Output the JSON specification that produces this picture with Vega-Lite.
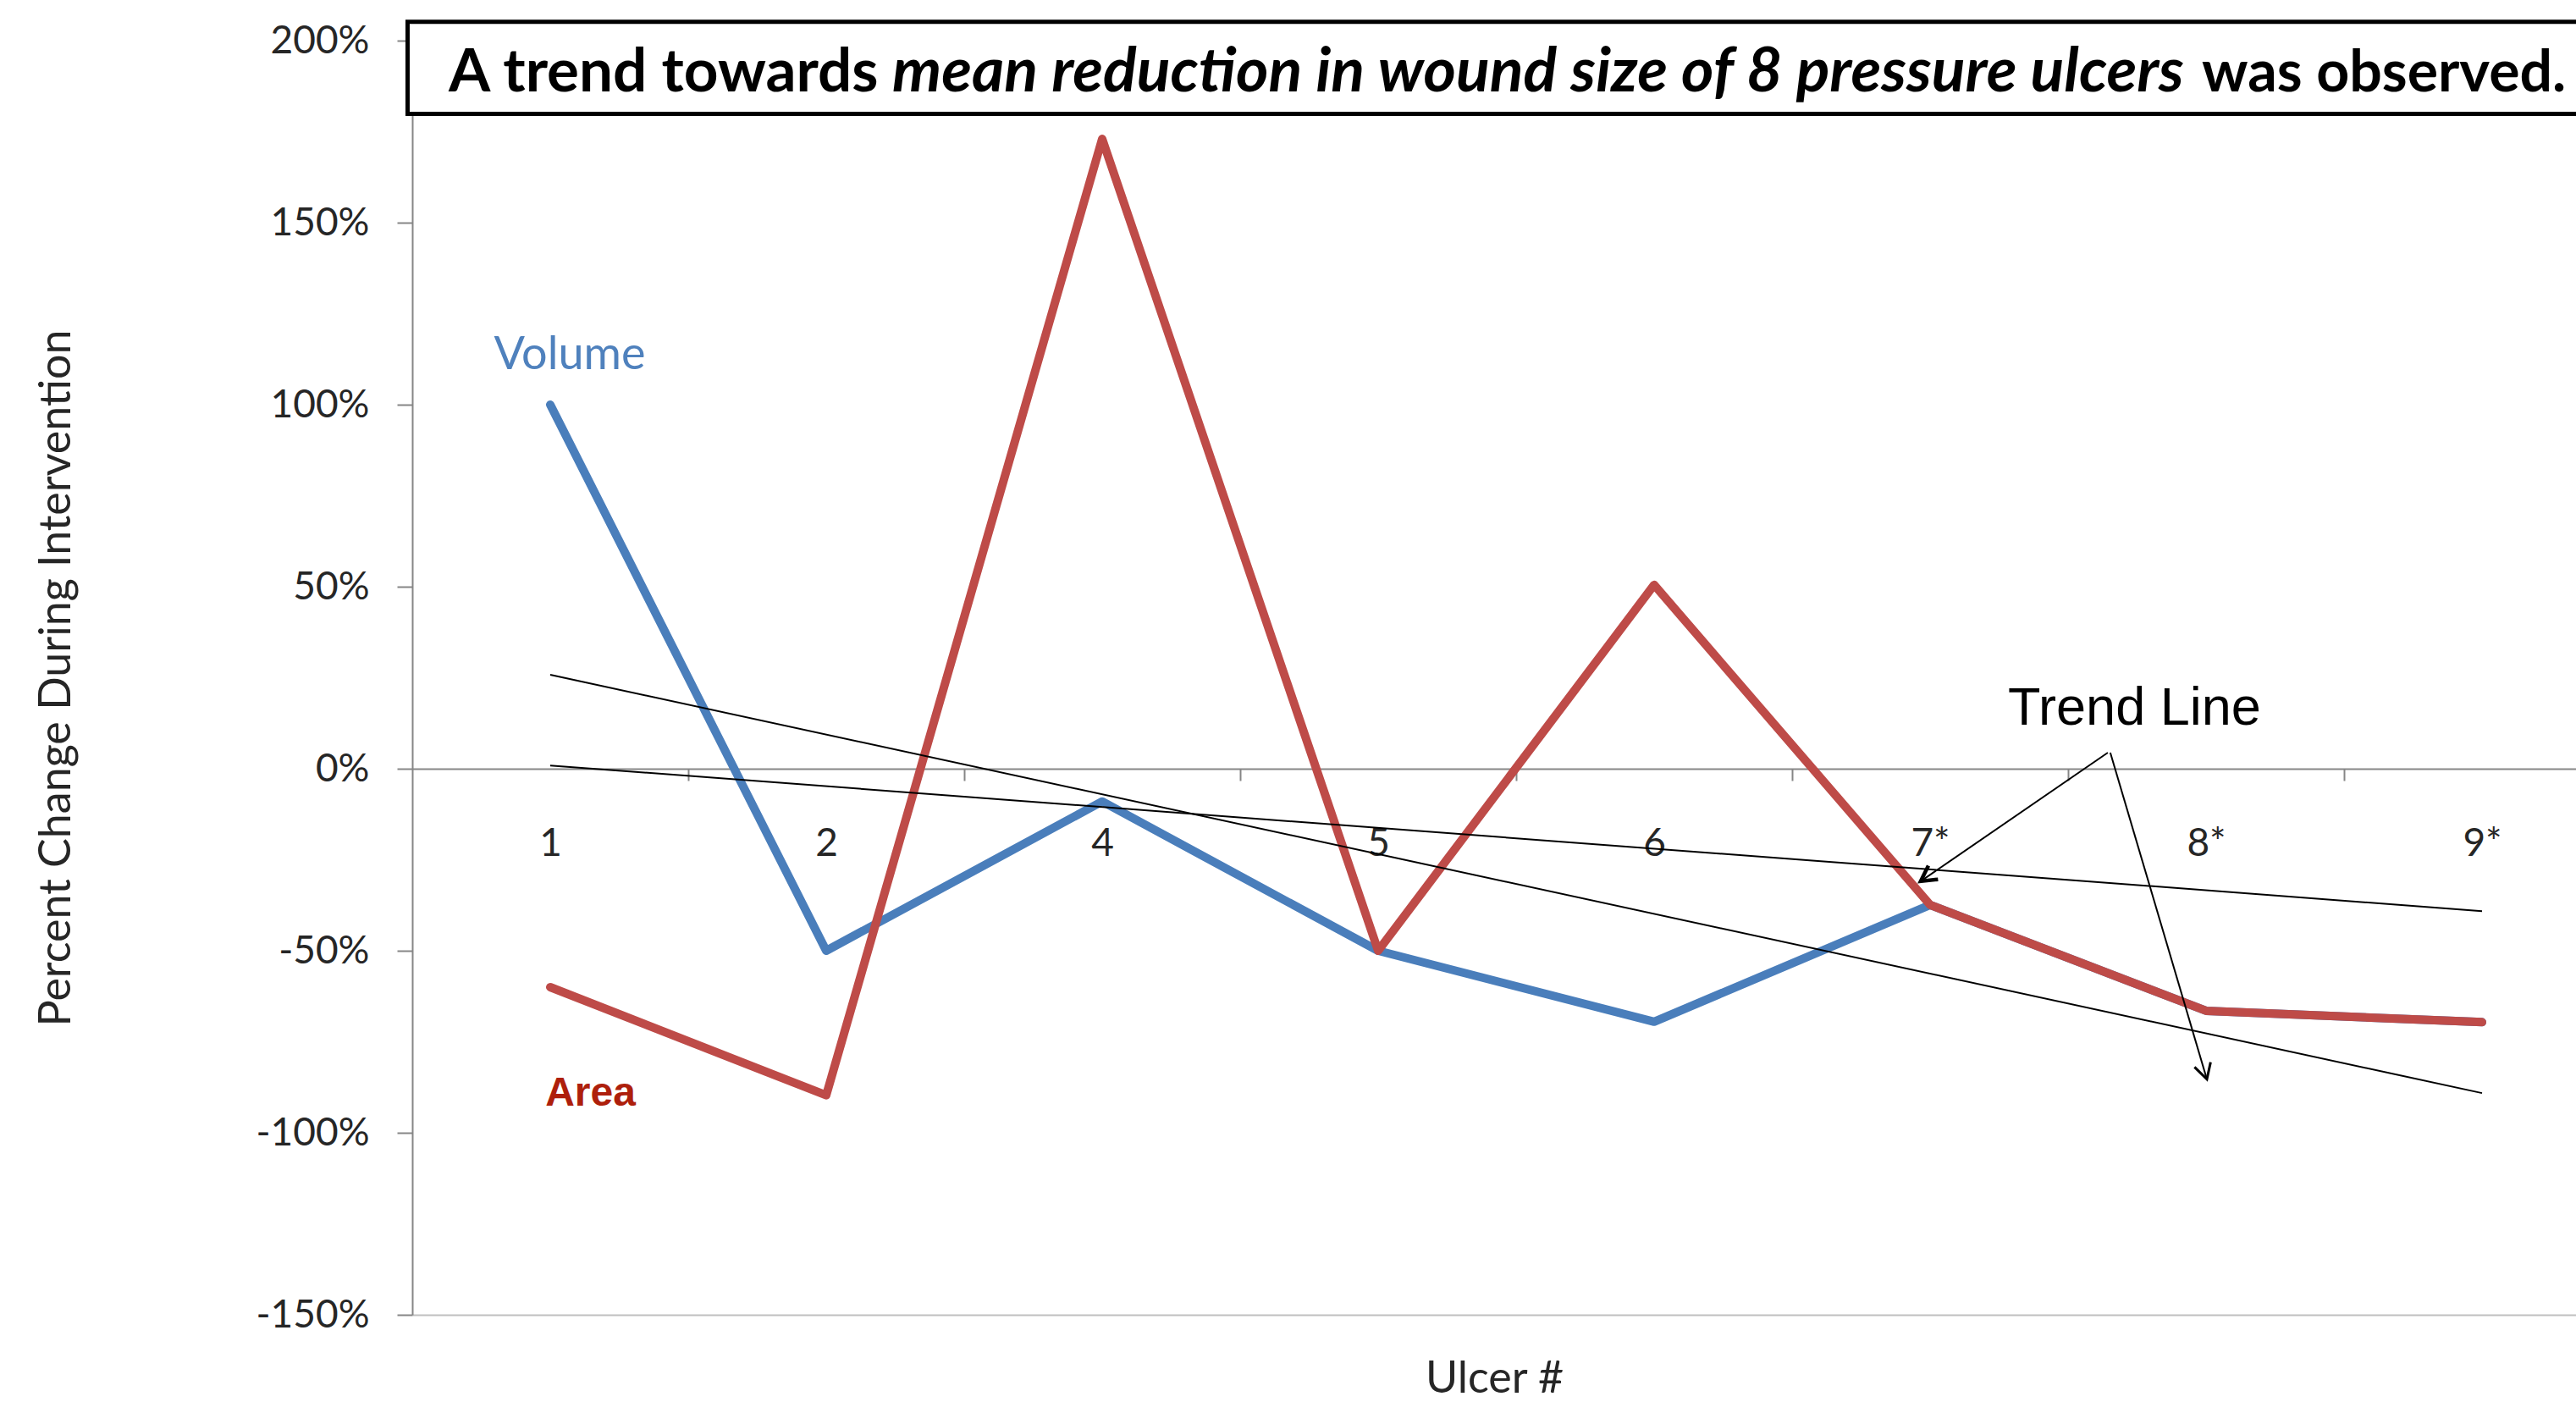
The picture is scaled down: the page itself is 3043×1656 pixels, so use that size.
{
  "$schema": "https://vega.github.io/schema/vega-lite/v6.json",
  "width": 2556,
  "height": 1505,
  "autosize": {"type": "none"},
  "padding": {"left": 487, "top": 48, "right": 0, "bottom": 103},
  "background": "white",
  "config": {"view": {"stroke": null}, "font": "Lato"},
  "datasets": {
    "series": [
      {"ulcer": "1", "idx": 1, "series": "Volume", "pct": 100},
      {"ulcer": "2", "idx": 2, "series": "Volume", "pct": -50},
      {"ulcer": "4", "idx": 3, "series": "Volume", "pct": -9},
      {"ulcer": "5", "idx": 4, "series": "Volume", "pct": -50},
      {"ulcer": "6", "idx": 5, "series": "Volume", "pct": -69.5},
      {"ulcer": "7*", "idx": 6, "series": "Volume", "pct": -37.4},
      {"ulcer": "8*", "idx": 7, "series": "Volume", "pct": -66.5},
      {"ulcer": "9*", "idx": 8, "series": "Volume", "pct": -69.6},
      {"ulcer": "1", "idx": 1, "series": "Area", "pct": -60},
      {"ulcer": "2", "idx": 2, "series": "Area", "pct": -89.7},
      {"ulcer": "4", "idx": 3, "series": "Area", "pct": 173},
      {"ulcer": "5", "idx": 4, "series": "Area", "pct": -50},
      {"ulcer": "6", "idx": 5, "series": "Area", "pct": 50.5},
      {"ulcer": "7*", "idx": 6, "series": "Area", "pct": -37.4},
      {"ulcer": "8*", "idx": 7, "series": "Area", "pct": -66.5},
      {"ulcer": "9*", "idx": 8, "series": "Area", "pct": -69.6}
    ],
    "trend": [
      {"series": "Volume trend", "idx": 1, "pct": 25.8},
      {"series": "Volume trend", "idx": 8, "pct": -89.1},
      {"series": "Area trend", "idx": 1, "pct": 0.9},
      {"series": "Area trend", "idx": 8, "pct": -39.1}
    ]
  },
  "layer": [
    {
      "data": {"name": "series"},
      "transform": [{"filter": "datum.series === 'Volume'"}],
      "mark": {"type": "line", "color": "#4A7EBB", "strokeWidth": 10, "strokeJoin": "round", "strokeCap": "round"},
      "encoding": {
        "x": {"field": "idx", "type": "quantitative",
          "scale": {"domain": [0.5, 8.3405], "nice": false, "zero": false},
          "axis": {"orient": "bottom", "title": "Ulcer #", "labels": false, "ticks": false, "grid": false,
            "domain": true, "domainColor": "#BFBFBF", "domainWidth": 2,
            "titleFont": "Lato", "titleFontSize": 52, "titleFontWeight": "normal", "titleColor": "#262626", "titlePadding": 50}},
        "y": {"field": "pct", "type": "quantitative",
          "scale": {"domain": [-150, 200], "nice": false, "zero": false},
          "axis": {"orient": "left", "title": "Percent Change During Intervention", "values": [-150, -100, -50, 0, 50, 100, 150, 200],
            "labelExpr": "datum.value + '%'", "labelFont": "Lato", "labelFontSize": 46, "labelColor": "#262626",
            "labelPadding": 33, "tickSize": 18, "tickColor": "#868686", "tickWidth": 2,
            "domain": true, "domainColor": "#868686", "domainWidth": 2, "grid": false,
            "titleFont": "Lato", "titleFontSize": 52, "titleFontWeight": "normal", "titleColor": "#262626", "titlePadding": 209}}
      }
    },
    {
      "data": {"name": "series"},
      "transform": [{"filter": "datum.series === 'Area'"}],
      "mark": {"type": "line", "color": "#BE4B48", "strokeWidth": 10, "strokeJoin": "round", "strokeCap": "round"},
      "encoding": {
        "x": {"field": "idx", "type": "quantitative", "scale": {"domain": [0.5, 8.3405], "nice": false, "zero": false}, "axis": null},
        "y": {"field": "pct", "type": "quantitative", "scale": {"domain": [-150, 200], "nice": false, "zero": false}, "axis": null}
      }
    },
    {
      "data": {"name": "trend"},
      "mark": {"type": "line", "color": "#000000", "strokeWidth": 2},
      "encoding": {
        "detail": {"field": "series", "type": "nominal"},
        "x": {"field": "idx", "type": "quantitative",
          "scale": {"domain": [0.5, 8.3405], "nice": false, "zero": false},
          "axis": {"orient": "bottom", "offset": -645, "values": [1.5, 2.5, 3.5, 4.5, 5.5, 6.5, 7.5],
            "labels": false, "ticks": true, "tickSize": 14, "tickColor": "#868686", "tickWidth": 2,
            "domain": true, "domainColor": "#868686", "domainWidth": 2, "grid": false, "title": null}},
        "y": {"field": "pct", "type": "quantitative", "scale": {"domain": [-150, 200], "nice": false, "zero": false}, "axis": null}
      }
    },
    {
      "data": {"values": [{}]},
      "mark": {"type": "text", "text": "Volume", "font": "Lato", "fontSize": 54, "color": "#4F81BD", "align": "center", "baseline": "alphabetic"},
      "encoding": {
        "x": {"datum": 1.0706, "type": "quantitative",
          "scale": {"domain": [0.5, 8.3405], "nice": false, "zero": false},
          "axis": {"orient": "bottom", "offset": -645, "values": [1, 2, 3, 4, 5, 6, 7, 8],
            "labelExpr": "['', '1', '2', '4', '5', '6', '7*', '8*', '9*'][datum.value]",
            "domain": false, "ticks": false, "tickSize": 0, "labelPadding": 66, "labelFont": "Lato", "labelFontSize": 46,
            "labelColor": "#262626", "labelFlush": false, "labelOverlap": false, "grid": false, "title": null}},
        "y": {"datum": 109.8, "type": "quantitative", "scale": {"domain": [-150, 200], "nice": false, "zero": false}, "axis": null}
      }
    },
    {
      "data": {"values": [{}]},
      "mark": {"type": "text", "text": "Area", "font": "Liberation Sans", "fontWeight": "bold", "fontSize": 48, "color": "#AE1F0C", "align": "left", "baseline": "alphabetic"},
      "encoding": {
        "x": {"datum": 0.982, "type": "quantitative", "axis": null},
        "y": {"datum": -92.6, "type": "quantitative", "axis": null}
      }
    },
    {
      "data": {"values": [{}]},
      "mark": {"type": "text", "text": "Trend Line", "font": "Liberation Sans", "fontSize": 63, "color": "#000000", "align": "left", "baseline": "alphabetic"},
      "encoding": {
        "x": {"datum": 6.282, "type": "quantitative", "axis": null},
        "y": {"datum": 12.1, "type": "quantitative", "axis": null}
      }
    },
    {
      "data": {"values": [{}]},
      "mark": {"type": "rule", "color": "#000000", "strokeWidth": 2},
      "encoding": {
        "x": {"datum": 6.644, "type": "quantitative", "axis": null},
        "y": {"datum": 4.42, "type": "quantitative", "axis": null},
        "x2": {"datum": 5.966},
        "y2": {"datum": -30.9}
      }
    },
    {
      "data": {"values": [{}]},
      "mark": {"type": "rule", "color": "#000000", "strokeWidth": 2},
      "encoding": {
        "x": {"datum": 6.653, "type": "quantitative", "axis": null},
        "y": {"datum": 4.42, "type": "quantitative", "axis": null},
        "x2": {"datum": 7.003},
        "y2": {"datum": -85.3}
      }
    },
    {
      "data": {"values": [{}]},
      "mark": {"type": "point", "shape": "M-0.55,1L0,0L0.55,1", "size": 1300, "angle": 235, "filled": false, "stroke": "#000000", "strokeWidth": 4.5, "strokeJoin": "miter", "opacity": 1},
      "encoding": {
        "x": {"datum": 5.966, "type": "quantitative", "axis": null},
        "y": {"datum": -30.9, "type": "quantitative", "axis": null}
      }
    },
    {
      "data": {"values": [{}]},
      "mark": {"type": "point", "shape": "M-0.55,1L0,0L0.55,1", "size": 1300, "angle": 163.5, "filled": false, "stroke": "#000000", "strokeWidth": 3, "strokeJoin": "miter", "opacity": 1},
      "encoding": {
        "x": {"datum": 7.003, "type": "quantitative", "axis": null},
        "y": {"datum": -85.3, "type": "quantitative", "axis": null}
      }
    },
    {
      "data": {"values": [{}]},
      "mark": {"type": "rect", "fill": "#FFFFFF", "stroke": "#000000", "strokeWidth": 5},
      "encoding": {
        "x": {"datum": 0.483, "type": "quantitative", "axis": null},
        "x2": {"datum": 9.5},
        "y": {"datum": 205.2, "type": "quantitative", "axis": null},
        "y2": {"datum": 179.9}
      }
    },
    {
      "data": {"values": [{}]},
      "mark": {"type": "text", "text": "A trend towards", "font": "Lato", "fontWeight": "bold", "fontSize": 71, "color": "#000000", "align": "left", "baseline": "alphabetic"},
      "encoding": {
        "x": {"datum": 0.632, "type": "quantitative", "axis": null},
        "y": {"datum": 186.0, "type": "quantitative", "axis": null}
      }
    },
    {
      "data": {"values": [{}]},
      "mark": {"type": "text", "text": "mean reduction in wound size of 8 pressure ulcers", "font": "Lato", "fontWeight": "bold", "fontStyle": "italic", "fontSize": 73.5, "color": "#000000", "align": "left", "baseline": "alphabetic"},
      "encoding": {
        "x": {"datum": 2.239, "type": "quantitative", "axis": null},
        "y": {"datum": 186.0, "type": "quantitative", "axis": null}
      }
    },
    {
      "data": {"values": [{}]},
      "mark": {"type": "text", "text": "was observed.", "font": "Lato", "fontWeight": "bold", "fontSize": 68, "color": "#000000", "align": "left", "baseline": "alphabetic"},
      "encoding": {
        "x": {"datum": 6.985, "type": "quantitative", "axis": null},
        "y": {"datum": 186.0, "type": "quantitative", "axis": null}
      }
    }
  ],
  "resolve": {"axis": {"x": "independent", "y": "independent"}}
}
